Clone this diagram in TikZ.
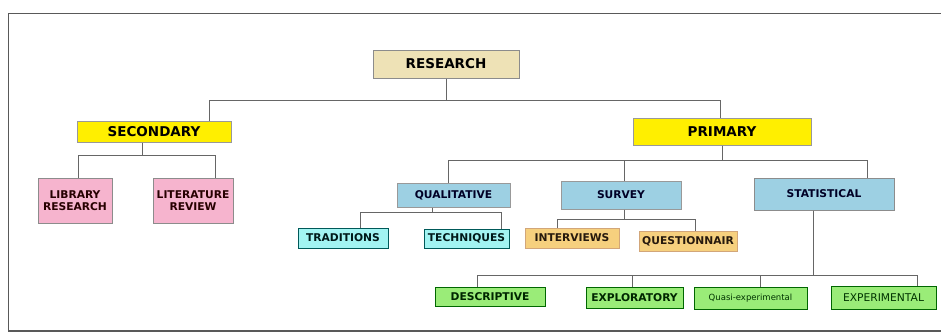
\documentclass[tikz,border=0pt]{standalone}
\usepackage{fontspec}
\setmainfont{DejaVu Sans}
\usetikzlibrary{calc}

\definecolor{tanfill}{HTML}{EEE2B6}
\definecolor{yellowfill}{HTML}{FFEF00}
\definecolor{pinkfill}{HTML}{F6B4CE}
\definecolor{bluefill}{HTML}{9DD0E3}
\definecolor{cyanfill}{HTML}{A2F4F2}
\definecolor{orangefill}{HTML}{F6D07E}
\definecolor{greenfill}{HTML}{9AEC78}

\tikzset{
    box/.style={draw=#1, line width=1pt, inner sep=0pt, align=center},
    size/.style 2 args={minimum width=#1pt, minimum height=#2pt},
    big/.style={font=\bfseries\fontsize{13.5}{15}\selectfont},
    small/.style={font=\bfseries\fontsize{10.7}{12}\selectfont},
    link/.style={draw=black!60, line width=1pt},
    frame/.style={draw=black!65, line width=1pt}
}

\begin{document}
\begin{tikzpicture}[x=1pt,y=-1pt]
    \useasboundingbox (0,0) rectangle (941,332);
    \draw [frame] (942,13) -- (8,13) -- (8,331) -- (942,331);
    \draw [frame, line width=2pt] (8,330.5) -- (942,330.5);

    % first two levels
    \node [box=black!45,fill=tanfill,big,size={146}{28}] (research) at (446,64) {RESEARCH};
    \node [box=black!40,fill=yellowfill,big,size={154}{21}] (secondary) at (154,131.5) {SECONDARY};
    \node [box=black!40,fill=yellowfill,big,size={178}{27}] (primary) at (722,131.5) {PRIMARY};

    % secondary branch
    \node [box=black!45,fill=pinkfill,small,text=black!85!red,size={74}{45}] (library) at (75,200.5) {LIBRARY\\RESEARCH};
    \node [box=black!45,fill=pinkfill,small,text=black!85!red,size={80}{45}] (literature) at (193,200.5) {LITERATURE\\REVIEW};

    % primary branch
    \node [box=black!40,fill=bluefill,small,text=black!85!blue,size={113}{24}] (qualitative) at (453.5,195) {QUALITATIVE};
    \node [box=black!40,fill=bluefill,small,text=black!85!blue,size={120}{28}] (survey) at (621,195) {SURVEY};
    \node [box=black!45,fill=bluefill,small,text=black!85!blue,size={140}{32}] (statistical) at (824,194) {STATISTICAL};

    \node [box=teal!70!black,fill=cyanfill,small,text=black!80!teal,size={90}{20}] (traditions) at (343,238) {TRADITIONS};
    \node [box=teal!70!black,fill=cyanfill,small,text=black!80!teal,size={85}{19}] (techniques) at (466.5,238.5) {TECHNIQUES};
    \node [box=brown!70,fill=orangefill,small,text=black!80!brown,size={94}{20}] (interviews) at (572,238) {INTERVIEWS};
    \node [box=brown!70,fill=orangefill,small,text=black!80!brown,size={98}{20}] (questionnair) at (688,241) {QUESTIONNAIR};

    \node [box=green!40!black,fill=greenfill,small,text=green!15!black,size={110}{19}] (descriptive) at (490,296.5) {DESCRIPTIVE};
    \node [box=green!40!black,fill=greenfill,small,text=green!15!black,size={97}{21}] (exploratory) at (634.5,297.5) {EXPLORATORY};
    \node [box=green!40!black,fill=greenfill,font=\fontsize{8.5}{10}\selectfont,text=green!20!black,size={113}{22}] (quasi) at (750.5,298) {Quasi-experimental};
    \node [box=green!40!black,fill=greenfill,font=\fontsize{10.7}{12}\selectfont,text=green!20!black,size={105}{23}] (experimental) at (883.5,297.5) {EXPERIMENTAL};

    % connectors
    \draw [link] (research.south) -- ++(0,22) -| ($(secondary.north)+(55,0)$);
    \draw [link] (research.south) -- ++(0,22) -| ($(primary.north)+(-2,0)$);

    \draw [link] ($(secondary.south)+(-12,0)$) -- ++(0,13) -| ($(library.north)+(3,0)$);
    \draw [link] ($(secondary.south)+(-12,0)$) -- ++(0,13) -| ($(literature.north)+(22,0)$);

    \draw [link] (primary.south) -- ++(0,15) -| ($(qualitative.north)+(-5.5,0)$);
    \draw [link] (primary.south) -- ++(0,15) -| ($(survey.north)+(3,0)$);
    \draw [link] (primary.south) -- ++(0,15) -| ($(statistical.north)+(43,0)$);

    \draw [link] ($(qualitative.south)+(-21.5,0)$) -- ++(0,5) -| ($(traditions.north)+(17,0)$);
    \draw [link] ($(qualitative.south)+(-21.5,0)$) -- ++(0,5) -| ($(techniques.north)+(34.5,0)$);

    \draw [link] ($(survey.south)+(3,0)$) -- ++(0,10) -| ($(interviews.north)+(-15,0)$);
    \draw [link] ($(survey.south)+(3,0)$) -- ++(0,10) -| ($(questionnair.north)+(7,0)$);

    \draw [link] ($(statistical.south)+(-11,0)$) -- ++(0,65) -| ($(descriptive.north)+(-13,0)$);
    \draw [link] ($(statistical.south)+(-11,0)$) -- ++(0,65) -| ($(exploratory.north)+(-2.5,0)$);
    \draw [link] ($(statistical.south)+(-11,0)$) -- ++(0,65) -| ($(quasi.north)+(9.5,0)$);
    \draw [link] ($(statistical.south)+(-11,0)$) -- ++(0,65) -| ($(experimental.north)+(33.5,0)$);
\end{tikzpicture}
\end{document}
